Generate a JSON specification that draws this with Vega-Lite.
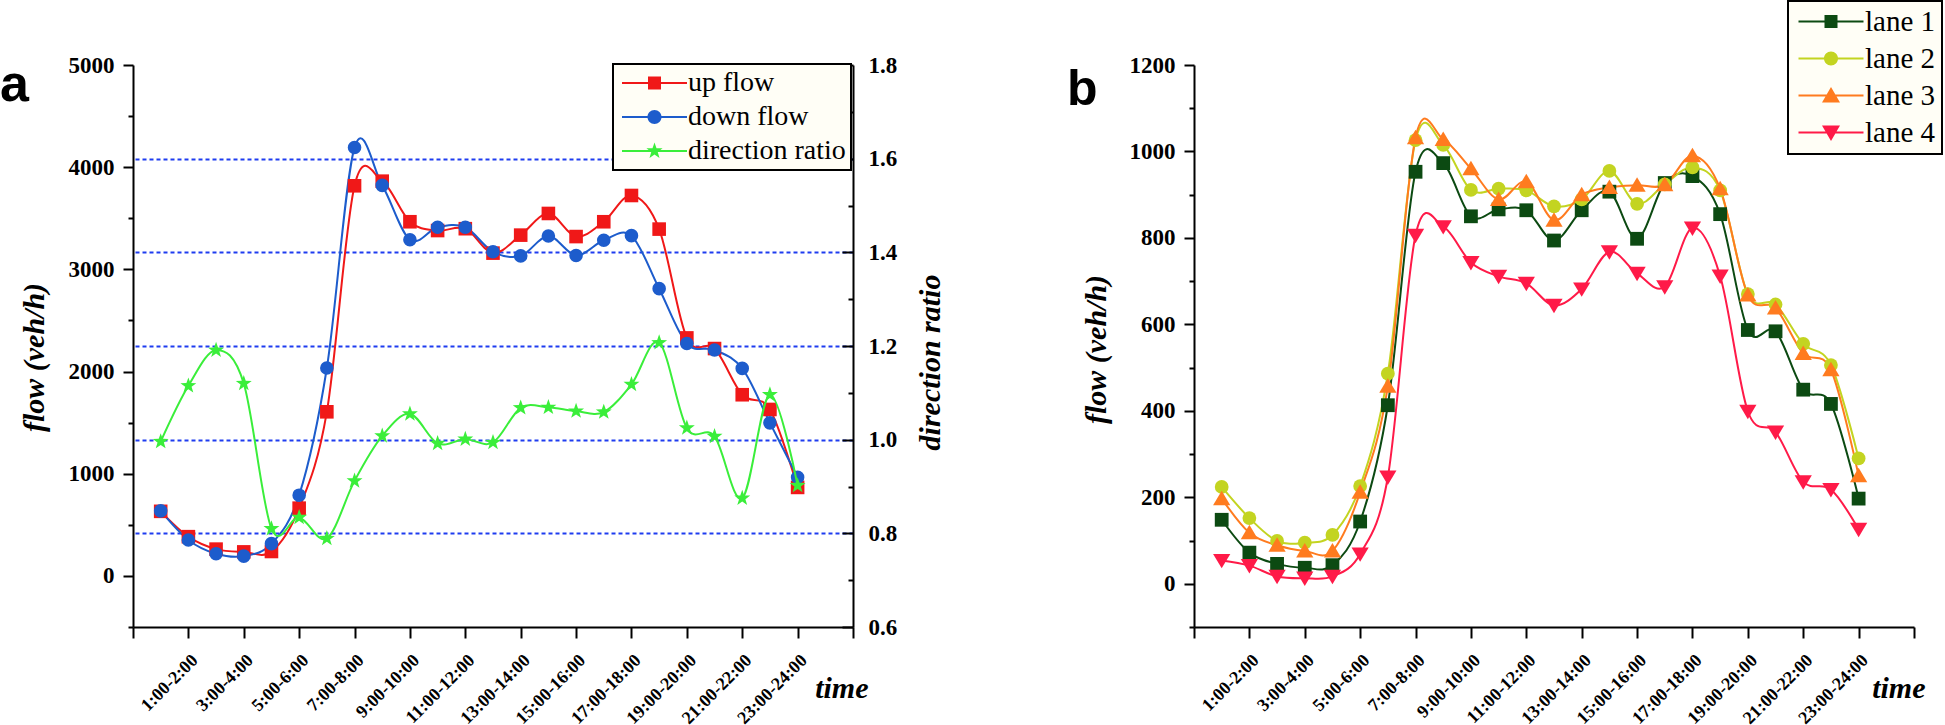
{
  "$schema": "https://vega.github.io/schema/vega-lite/v6.json",
  "background": "white",
  "padding": 0,
  "spacing": 341,
  "bounds": "flush",
  "config": {
    "view": {"stroke": null},
    "axis": {"domainColor": "black", "domainWidth": 2, "tickColor": "black", "tickWidth": 2, "labelFont": "Liberation Serif", "labelFontWeight": "bold", "labelColor": "black", "titleFont": "Liberation Serif", "titleFontWeight": "bold", "titleFontStyle": "italic", "titleColor": "black", "grid": false, "labelOverlap": false, "labelFlush": false, "labelBound": false},
    "legend": {"strokeWidth": 2}
  },
  "datasets": {
    "a": [
      {"h":1,"s":"up flow","v":632},{"h":2,"s":"up flow","v":384},{"h":3,"s":"up flow","v":262},{"h":4,"s":"up flow","v":235},{"h":5,"s":"up flow","v":239},{"h":6,"s":"up flow","v":663},{"h":7,"s":"up flow","v":1606},{"h":8,"s":"up flow","v":3818},{"h":9,"s":"up flow","v":3863},{"h":10,"s":"up flow","v":3466},{"h":11,"s":"up flow","v":3380},{"h":12,"s":"up flow","v":3398},{"h":13,"s":"up flow","v":3159},{"h":14,"s":"up flow","v":3335},{"h":15,"s":"up flow","v":3547},{"h":16,"s":"up flow","v":3321},{"h":17,"s":"up flow","v":3466},{"h":18,"s":"up flow","v":3723},{"h":19,"s":"up flow","v":3394},{"h":20,"s":"up flow","v":2329},{"h":21,"s":"up flow","v":2225},{"h":22,"s":"up flow","v":1773},{"h":23,"s":"up flow","v":1629},{"h":24,"s":"up flow","v":866},
      {"h":1,"s":"down flow","v":636},{"h":2,"s":"down flow","v":352},{"h":3,"s":"down flow","v":217},{"h":4,"s":"down flow","v":194},{"h":5,"s":"down flow","v":316},{"h":6,"s":"down flow","v":790},{"h":7,"s":"down flow","v":2035},{"h":8,"s":"down flow","v":4192},{"h":9,"s":"down flow","v":3822},{"h":10,"s":"down flow","v":3290},{"h":11,"s":"down flow","v":3412},{"h":12,"s":"down flow","v":3412},{"h":13,"s":"down flow","v":3172},{"h":14,"s":"down flow","v":3132},{"h":15,"s":"down flow","v":3326},{"h":16,"s":"down flow","v":3136},{"h":17,"s":"down flow","v":3285},{"h":18,"s":"down flow","v":3330},{"h":19,"s":"down flow","v":2811},{"h":20,"s":"down flow","v":2274},{"h":21,"s":"down flow","v":2211},{"h":22,"s":"down flow","v":2031},{"h":23,"s":"down flow","v":1498},{"h":24,"s":"down flow","v":966},
      {"h":1,"s":"direction ratio","v":0.996},{"h":2,"s":"direction ratio","v":1.115},{"h":3,"s":"direction ratio","v":1.191},{"h":4,"s":"direction ratio","v":1.120},{"h":5,"s":"direction ratio","v":0.810},{"h":6,"s":"direction ratio","v":0.834},{"h":7,"s":"direction ratio","v":0.789},{"h":8,"s":"direction ratio","v":0.912},{"h":9,"s":"direction ratio","v":1.008},{"h":10,"s":"direction ratio","v":1.055},{"h":11,"s":"direction ratio","v":0.992},{"h":12,"s":"direction ratio","v":1.001},{"h":13,"s":"direction ratio","v":0.994},{"h":14,"s":"direction ratio","v":1.068},{"h":15,"s":"direction ratio","v":1.069},{"h":16,"s":"direction ratio","v":1.061},{"h":17,"s":"direction ratio","v":1.059},{"h":18,"s":"direction ratio","v":1.118},{"h":19,"s":"direction ratio","v":1.207},{"h":20,"s":"direction ratio","v":1.025},{"h":21,"s":"direction ratio","v":1.007},{"h":22,"s":"direction ratio","v":0.875},{"h":23,"s":"direction ratio","v":1.096},{"h":24,"s":"direction ratio","v":0.902}
    ],
    "b": [
      {"h":1,"lane":"lane 1","v":148},{"h":2,"lane":"lane 1","v":72},{"h":3,"lane":"lane 1","v":46},{"h":4,"lane":"lane 1","v":37},{"h":5,"lane":"lane 1","v":43},{"h":6,"lane":"lane 1","v":144},{"h":7,"lane":"lane 1","v":413},{"h":8,"lane":"lane 1","v":953},{"h":9,"lane":"lane 1","v":973},{"h":10,"lane":"lane 1","v":850},{"h":11,"lane":"lane 1","v":866},{"h":12,"lane":"lane 1","v":864},{"h":13,"lane":"lane 1","v":794},{"h":14,"lane":"lane 1","v":864},{"h":15,"lane":"lane 1","v":907},{"h":16,"lane":"lane 1","v":798},{"h":17,"lane":"lane 1","v":927},{"h":18,"lane":"lane 1","v":943},{"h":19,"lane":"lane 1","v":855},{"h":20,"lane":"lane 1","v":587},{"h":21,"lane":"lane 1","v":584},{"h":22,"lane":"lane 1","v":449},{"h":23,"lane":"lane 1","v":416},{"h":24,"lane":"lane 1","v":197},
      {"h":1,"lane":"lane 2","v":224},{"h":2,"lane":"lane 2","v":152},{"h":3,"lane":"lane 2","v":99},{"h":4,"lane":"lane 2","v":95},{"h":5,"lane":"lane 2","v":113},{"h":6,"lane":"lane 2","v":226},{"h":7,"lane":"lane 2","v":486},{"h":8,"lane":"lane 2","v":1026},{"h":9,"lane":"lane 2","v":1015},{"h":10,"lane":"lane 2","v":911},{"h":11,"lane":"lane 2","v":914},{"h":12,"lane":"lane 2","v":910},{"h":13,"lane":"lane 2","v":873},{"h":14,"lane":"lane 2","v":889},{"h":15,"lane":"lane 2","v":955},{"h":16,"lane":"lane 2","v":879},{"h":17,"lane":"lane 2","v":924},{"h":18,"lane":"lane 2","v":963},{"h":19,"lane":"lane 2","v":910},{"h":20,"lane":"lane 2","v":670},{"h":21,"lane":"lane 2","v":646},{"h":22,"lane":"lane 2","v":555},{"h":23,"lane":"lane 2","v":506},{"h":24,"lane":"lane 2","v":290},
      {"h":1,"lane":"lane 3","v":197},{"h":2,"lane":"lane 3","v":118},{"h":3,"lane":"lane 3","v":89},{"h":4,"lane":"lane 3","v":76},{"h":5,"lane":"lane 3","v":76},{"h":6,"lane":"lane 3","v":212},{"h":7,"lane":"lane 3","v":457},{"h":8,"lane":"lane 3","v":1032},{"h":9,"lane":"lane 3","v":1028},{"h":10,"lane":"lane 3","v":960},{"h":11,"lane":"lane 3","v":889},{"h":12,"lane":"lane 3","v":930},{"h":13,"lane":"lane 3","v":841},{"h":14,"lane":"lane 3","v":900},{"h":15,"lane":"lane 3","v":917},{"h":16,"lane":"lane 3","v":922},{"h":17,"lane":"lane 3","v":923},{"h":18,"lane":"lane 3","v":990},{"h":19,"lane":"lane 3","v":914},{"h":20,"lane":"lane 3","v":668},{"h":21,"lane":"lane 3","v":638},{"h":22,"lane":"lane 3","v":533},{"h":23,"lane":"lane 3","v":495},{"h":24,"lane":"lane 3","v":250},
      {"h":1,"lane":"lane 4","v":54},{"h":2,"lane":"lane 4","v":42},{"h":3,"lane":"lane 4","v":17},{"h":4,"lane":"lane 4","v":13},{"h":5,"lane":"lane 4","v":17},{"h":6,"lane":"lane 4","v":69},{"h":7,"lane":"lane 4","v":247},{"h":8,"lane":"lane 4","v":806},{"h":9,"lane":"lane 4","v":826},{"h":10,"lane":"lane 4","v":743},{"h":11,"lane":"lane 4","v":711},{"h":12,"lane":"lane 4","v":695},{"h":13,"lane":"lane 4","v":644},{"h":14,"lane":"lane 4","v":682},{"h":15,"lane":"lane 4","v":768},{"h":16,"lane":"lane 4","v":718},{"h":17,"lane":"lane 4","v":687},{"h":18,"lane":"lane 4","v":823},{"h":19,"lane":"lane 4","v":712},{"h":20,"lane":"lane 4","v":399},{"h":21,"lane":"lane 4","v":351},{"h":22,"lane":"lane 4","v":236},{"h":23,"lane":"lane 4","v":218},{"h":24,"lane":"lane 4","v":126}
    ]
  },
  "hconcat": [
    {
      "width": 720,
      "height": 562,
      "title": {"text": "a", "anchor": "start", "frame": "group", "orient": "top", "font": "Liberation Sans", "fontSize": 52, "fontWeight": "bold", "color": "black", "dx": -133, "dy": 99, "offset": 0, "baseline": "alphabetic"},
      "data": {"name": "a"},
      "layer": [
        {
          "transform": [{"filter": "datum.s !== 'direction ratio'"}],
          "layer": [
            {
              "mark": {"type": "line", "interpolate": "cardinal", "strokeWidth": 2},
              "encoding": {
                "x": {"field": "h", "type": "quantitative", "scale": {"domain": [0, 26], "nice": false, "zero": false},
                  "axis": {"orient": "bottom", "values": [0,1,2,3,4,5,6,7,8,9,10,11,12,13,14,15,16,17,18,19,20,21,22,23,24,25,26], "format": "d",
                    "labelExpr": "datum.value >= 2 && datum.value <= 24 && datum.value % 2 === 0 ? (datum.value - 1) + ':00-' + datum.value + ':00' : ''",
                    "tickSize": {"condition": {"test": "datum.value % 2 === 0", "value": 11}, "value": 6},
                    "labelAngle": -45, "labelAlign": "right", "labelBaseline": "top", "labelPadding": 13, "labelFontSize": 18,
                    "title": "time", "titleX": 735, "titleY": 70, "titleAlign": "right", "titleBaseline": "alphabetic", "titleAngle": 0, "titleFontSize": 30}},
                "y": {"field": "v", "type": "quantitative", "scale": {"domain": [-500, 5000], "nice": false, "zero": false},
                  "axis": {"orient": "left", "values": [-500,0,500,1000,1500,2000,2500,3000,3500,4000,4500,5000], "format": "d",
                    "labelExpr": "datum.value >= 0 && datum.value % 1000 === 0 ? datum.label : ''",
                    "tickSize": {"condition": {"test": "datum.value % 1000 === 0", "value": 10}, "value": 5},
                    "labelPadding": 9, "labelFontSize": 23,
                    "title": "flow (veh/h)", "titleX": -90, "titleY": 292, "titleAngle": 270, "titleAlign": "center", "titleBaseline": "alphabetic", "titleFontSize": 30}},
                "color": {"field": "s", "type": "nominal", "scale": {"domain": ["up flow", "down flow", "direction ratio"], "range": ["#f01818", "#1d5ccc", "#3aee3a"]}, "legend": null}
              }
            },
            {
              "mark": {"type": "point", "filled": true, "opacity": 1, "size": 185},
              "encoding": {
                "x": {"field": "h", "type": "quantitative"},
                "y": {"field": "v", "type": "quantitative"},
                "color": {"field": "s", "type": "nominal", "scale": {"domain": ["up flow", "down flow", "direction ratio"], "range": ["#f01818", "#1d5ccc", "#3aee3a"]}, "legend": null},
                "shape": {"field": "s", "type": "nominal", "scale": {"domain": ["up flow", "down flow", "direction ratio"], "range": ["square", "circle", "M0,-1L0.235,-0.324L0.951,-0.309L0.38,0.124L0.588,0.809L0,0.4L-0.588,0.809L-0.38,0.124L-0.951,-0.309L-0.235,-0.324Z"]}, "legend": null}
              }
            }
          ]
        },
        {
          "transform": [{"filter": "datum.s === 'direction ratio'"}],
          "layer": [
            {
              "mark": {"type": "line", "interpolate": "cardinal", "strokeWidth": 2},
              "encoding": {
                "x": {"field": "h", "type": "quantitative"},
                "y": {"field": "v", "type": "quantitative", "scale": {"domain": [0.6, 1.8], "nice": false, "zero": false},
                  "axis": {"orient": "right", "values": [0.6,0.7,0.8,0.9,1.0,1.1,1.2,1.3,1.4,1.5,1.6,1.7,1.8],
                    "labelExpr": "round(datum.value * 10) % 2 === 0 ? format(datum.value, '.1f') : ''",
                    "tickSize": {"condition": {"test": "round(datum.value * 10) % 2 === 0", "value": -11}, "value": -5},
                    "labelPadding": 26, "labelFontSize": 23,
                    "grid": true, "gridColor": "#1e3cf0", "gridDash": [4, 3], "gridWidth": 2,
                    "gridOpacity": {"condition": {"test": "datum.value > 0.75 && datum.value < 1.65 && round(datum.value * 10) % 2 === 0", "value": 1}, "value": 0},
                    "title": "direction ratio", "titleX": 86, "titleY": 297, "titleAngle": 270, "titleAlign": "center", "titleBaseline": "alphabetic", "titleFontSize": 30}},
                "color": {"field": "s", "type": "nominal", "scale": {"domain": ["up flow", "down flow", "direction ratio"], "range": ["#f01818", "#1d5ccc", "#3aee3a"]}, "legend": null}
              }
            },
            {
              "mark": {"type": "point", "filled": true, "opacity": 1, "size": 280},
              "encoding": {
                "x": {"field": "h", "type": "quantitative"},
                "y": {"field": "v", "type": "quantitative"},
                "color": {"field": "s", "type": "nominal", "scale": {"domain": ["up flow", "down flow", "direction ratio"], "range": ["#f01818", "#1d5ccc", "#3aee3a"]}, "legend": null},
                "shape": {"field": "s", "type": "nominal", "scale": {"domain": ["up flow", "down flow", "direction ratio"], "range": ["square", "circle", "M0,-1L0.235,-0.324L0.951,-0.309L0.38,0.124L0.588,0.809L0,0.4L-0.588,0.809L-0.38,0.124L-0.951,-0.309L-0.235,-0.324Z"]}, "legend": null}
              }
            }
          ]
        },
        {
          "mark": {"type": "point", "filled": true, "opacity": 0},
          "encoding": {
            "x": {"field": "h", "type": "quantitative"},
            "y": {"field": "v", "type": "quantitative", "axis": null, "scale": {"domain": [-500, 5000]}},
            "color": {"field": "s", "type": "nominal", "scale": {"domain": ["up flow", "down flow", "direction ratio"], "range": ["#f01818", "#1d5ccc", "#3aee3a"]},
              "legend": {"orient": "none", "legendX": 480, "legendY": -1, "title": null, "padding": 5, "rowPadding": 6, "symbolSize": 400, "symbolOpacity": 1, "symbolStrokeWidth": 0, "labelFont": "Liberation Serif", "labelFontSize": 28, "labelColor": "black", "labelOffset": 42, "labelLimit": 0, "fillColor": "#fffef6", "strokeColor": "black"}},
            "shape": {"field": "s", "type": "nominal", "scale": {"domain": ["up flow", "down flow", "direction ratio"], "range": [
              "M-1,-0.1H5.5V0.1H-1ZM1.6,-0.65H2.9V0.65H1.6Z",
              "M-1,-0.1H5.5V0.1H-1ZM1.55,0A0.7,0.7 0 1,1 2.95,0A0.7,0.7 0 1,1 1.55,0Z",
              "M-1,-0.1H5.5V0.1H-1ZM2.25,-0.85L2.45,-0.275L3.058,-0.263L2.573,0.105L2.75,0.688L2.25,0.34L1.75,0.688L1.927,0.105L1.442,-0.263L2.05,-0.275Z"]},
              "legend": {"orient": "none", "legendX": 480, "legendY": -1, "title": null, "padding": 5, "rowPadding": 6, "symbolSize": 400, "symbolOpacity": 1, "symbolStrokeWidth": 0, "labelFont": "Liberation Serif", "labelFontSize": 28, "labelColor": "black", "labelOffset": 42, "labelLimit": 0, "fillColor": "#fffef6", "strokeColor": "black"}}
          }
        }
      ],
      "resolve": {"scale": {"y": "independent", "color": "independent", "shape": "independent"}}
    },
    {
      "width": 720,
      "height": 562,
      "title": {"text": "b", "anchor": "start", "frame": "group", "orient": "top", "font": "Liberation Sans", "fontSize": 50, "fontWeight": "bold", "color": "black", "dx": -127, "dy": 155, "offset": 0, "baseline": "alphabetic"},
      "data": {"name": "b"},
      "layer": [
        {
          "mark": {"type": "line", "interpolate": "cardinal", "strokeWidth": 2},
          "encoding": {
            "x": {"field": "h", "type": "quantitative", "scale": {"domain": [0, 26], "nice": false, "zero": false},
              "axis": {"orient": "bottom", "values": [0,1,2,3,4,5,6,7,8,9,10,11,12,13,14,15,16,17,18,19,20,21,22,23,24,25,26], "format": "d",
                "labelExpr": "datum.value >= 2 && datum.value <= 24 && datum.value % 2 === 0 ? (datum.value - 1) + ':00-' + datum.value + ':00' : ''",
                "tickSize": {"condition": {"test": "datum.value % 2 === 0", "value": 11}, "value": 6},
                "labelAngle": -45, "labelAlign": "right", "labelBaseline": "top", "labelPadding": 13, "labelFontSize": 18,
                "title": "time", "titleX": 731, "titleY": 70, "titleAlign": "right", "titleBaseline": "alphabetic", "titleAngle": 0, "titleFontSize": 30}},
            "y": {"field": "v", "type": "quantitative", "scale": {"domain": [-100, 1200], "nice": false, "zero": false},
              "axis": {"orient": "left", "values": [-100,0,100,200,300,400,500,600,700,800,900,1000,1100,1200], "format": "d",
                "labelExpr": "datum.value >= 0 && datum.value % 200 === 0 ? datum.label : ''",
                "tickSize": {"condition": {"test": "datum.value % 200 === 0", "value": 10}, "value": 5},
                "labelPadding": 9, "labelFontSize": 23,
                "title": "flow (veh/h)", "titleX": -89, "titleY": 284, "titleAngle": 270, "titleAlign": "center", "titleBaseline": "alphabetic", "titleFontSize": 30}},
            "color": {"field": "lane", "type": "nominal", "scale": {"domain": ["lane 1", "lane 2", "lane 3", "lane 4"], "range": ["#0c4a12", "#c3d421", "#ff7b1f", "#ff1a48"]}, "legend": null}
          }
        },
        {
          "mark": {"type": "point", "filled": true, "opacity": 1, "size": 190},
          "encoding": {
            "x": {"field": "h", "type": "quantitative"},
            "y": {"field": "v", "type": "quantitative"},
            "color": {"field": "lane", "type": "nominal", "scale": {"domain": ["lane 1", "lane 2", "lane 3", "lane 4"], "range": ["#0c4a12", "#c3d421", "#ff7b1f", "#ff1a48"]}, "legend": null},
            "shape": {"field": "lane", "type": "nominal", "scale": {"domain": ["lane 1", "lane 2", "lane 3", "lane 4"], "range": ["square", "circle", "M0,-1.15L1.25,0.95H-1.25Z", "M-1.25,-0.95H1.25L0,1.15Z"]}, "legend": null}
          }
        },
        {
          "mark": {"type": "point", "filled": true, "opacity": 0},
          "encoding": {
            "x": {"field": "h", "type": "quantitative"},
            "y": {"field": "v", "type": "quantitative"},
            "color": {"field": "lane", "type": "nominal", "scale": {"domain": ["lane 1", "lane 2", "lane 3", "lane 4"], "range": ["#0c4a12", "#c3d421", "#ff7b1f", "#ff1a48"]},
              "legend": {"orient": "none", "legendX": 594, "legendY": -64, "title": null, "padding": 6, "rowPadding": 7, "symbolSize": 400, "symbolOpacity": 1, "symbolStrokeWidth": 0, "labelFont": "Liberation Serif", "labelFontSize": 29, "labelColor": "black", "labelOffset": 42, "labelLimit": 0, "fillColor": "#fffef6", "strokeColor": "black"}},
            "shape": {"field": "lane", "type": "nominal", "scale": {"domain": ["lane 1", "lane 2", "lane 3", "lane 4"], "range": [
              "M-1,-0.1H5.5V0.1H-1ZM1.6,-0.65H2.9V0.65H1.6Z",
              "M-1,-0.1H5.5V0.1H-1ZM1.55,0A0.7,0.7 0 1,1 2.95,0A0.7,0.7 0 1,1 1.55,0Z",
              "M-1,-0.1H5.5V0.1H-1ZM2.25,-0.85L3.15,0.7H1.35Z",
              "M-1,-0.1H5.5V0.1H-1ZM1.35,-0.7H3.15L2.25,0.85Z"]},
              "legend": {"orient": "none", "legendX": 594, "legendY": -64, "title": null, "padding": 6, "rowPadding": 7, "symbolSize": 400, "symbolOpacity": 1, "symbolStrokeWidth": 0, "labelFont": "Liberation Serif", "labelFontSize": 29, "labelColor": "black", "labelOffset": 42, "labelLimit": 0, "fillColor": "#fffef6", "strokeColor": "black"}}
          }
        }
      ],
      "resolve": {"scale": {"color": "independent", "shape": "independent"}}
    }
  ]
}
